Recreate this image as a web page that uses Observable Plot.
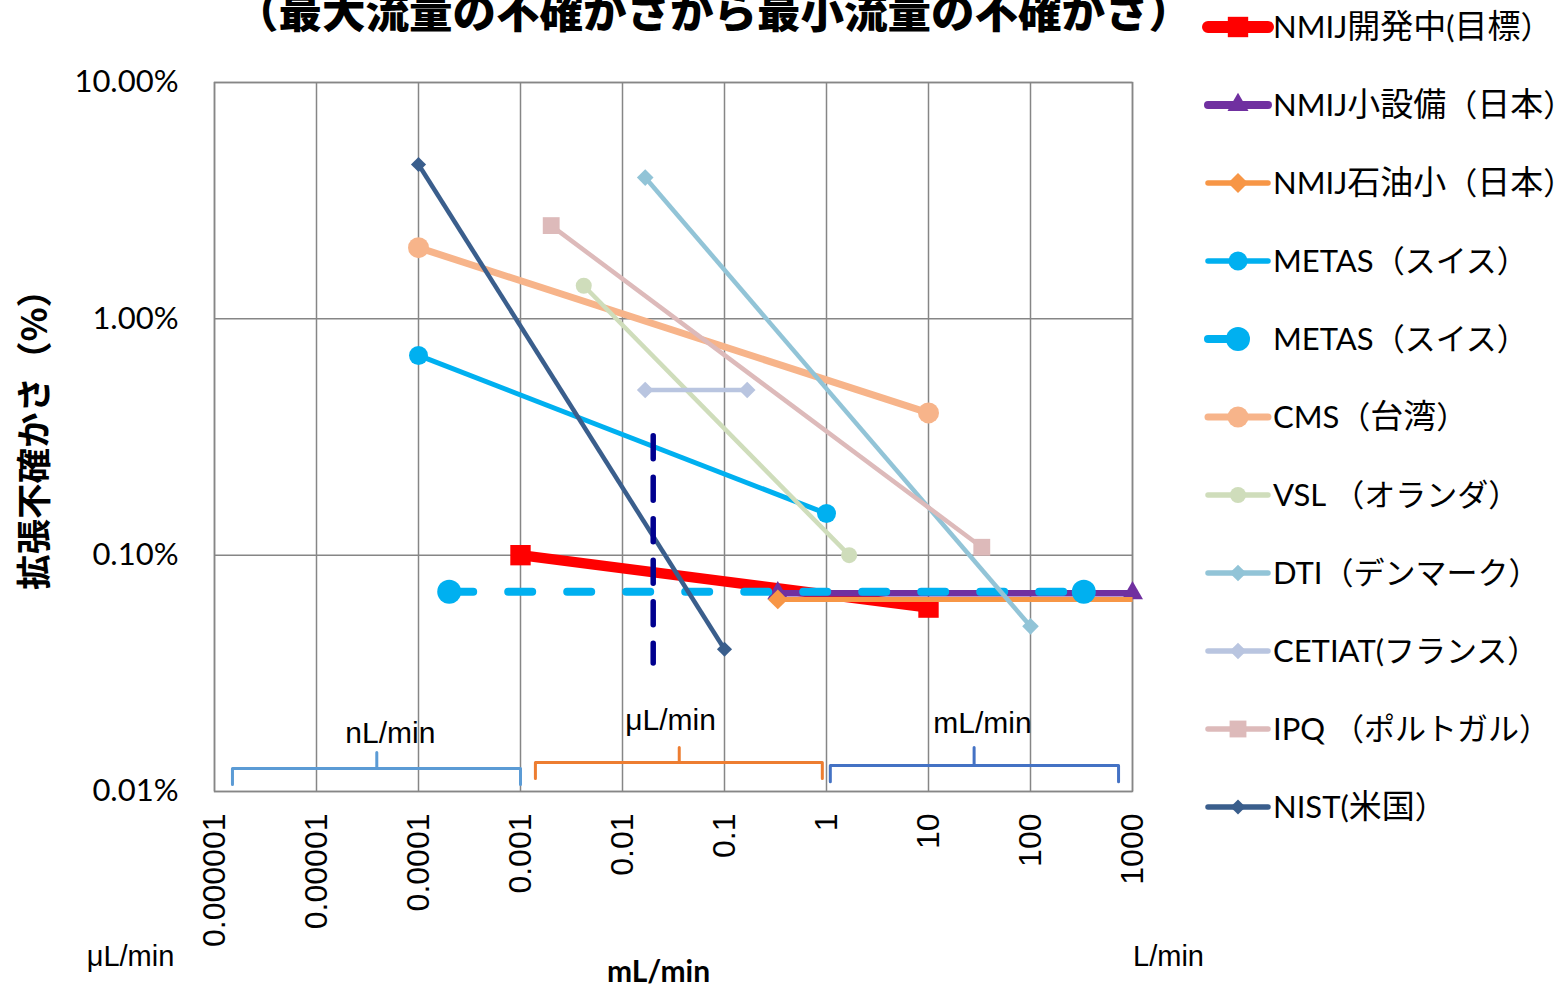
<!DOCTYPE html>
<html><head><meta charset="utf-8">
<script src="https://cdn.jsdelivr.net/npm/d3@7"></script>
<script src="https://cdn.jsdelivr.net/npm/@observablehq/plot@0.6"></script>
<style>
html,body{margin:0;padding:0;background:#fff;overflow:hidden}
#wrap{position:relative;width:1560px;height:987px;overflow:hidden;background:#fff}
#wrap svg{position:absolute;left:0;top:0}
</style></head><body><div id="wrap"></div>
<script>
// ---- data ----
const seriesNames = ["NMIJ開発中(目標）","NMIJ小設備（日本）","NMIJ石油小（日本）","METAS（スイス）","METAS（スイス）","CMS（台湾）","VSL （オランダ）","DTI（デンマーク）","CETIAT(フランス）","IPQ （ポルトガル）","NIST(米国）"];
const flowStart = [0.001, 0.333, 0.333, 0.0001, 0.0002, 0.0001, 0.00417, 0.0167, 0.0167, 0.002, 0.0001];
const flowEnd   = [10, 1000, 1000, 1, 333, 10, 1.667, 100, 0.167, 33.3, 0.1];
const uncStart  = [0.10, 0.069, 0.065, 0.70, 0.07, 2.0, 1.38, 3.96, 0.50, 2.48, 4.5];
const uncEnd    = [0.06, 0.069, 0.065, 0.15, 0.07, 0.40, 0.10, 0.05, 0.50, 0.108, 0.04];
const xTicks = [1e-6, 1e-5, 1e-4, 1e-3, 1e-2, 0.1, 1, 10, 100, 1000];
const xTickLabels = ["0.000001","0.00001","0.0001","0.001","0.01","0.1","1","10","100","1000"];
const yTicks = [0.01, 0.1, 1, 10];
const yTickLabels = ["0.01%","0.10%","1.00%","10.00%"];
const refFlow = [0.02];
const refUncTop = [0.32];
const refUncBottom = [0.035];
const rangeNames = ["nL/min","μL/min","mL/min"];
const rangeFrom = [1.5e-6, 0.0014, 1.09];
const rangeMid  = [3.9e-5, 0.036, 28];
const rangeTo   = [0.001, 0.91, 730];
const rangeBase = [0.0107, 0.01135, 0.0110];
const rangeBar  = [0.0125, 0.01327, 0.01288];
const rangeTip  = [0.01462, 0.01535, 0.01535];
const rangeLabelFlow = [5.3e-5, 0.0296, 33.8];
const rangeLabelUnc  = [0.0176, 0.020, 0.0194];

// ---- styles ----
const colors  = ["#FF0000","#7030A0","#F79646","#00B0F0","#00B0F0","#F7B48A","#CFDDBB","#92C4D7","#B9C5E0","#DDBABA","#3A5E8C"];
const widths  = [10.5, 6.5, 5, 5, 8, 7, 4.5, 4.5, 4.5, 4.5, 4.5];
const symbols = ["square","triangle","diamond2","circle","circle","circle","circle","diamond2","diamond2","square","diamond2"];
const radii   = [11.5, 7.8, 9, 9.5, 12, 10.5, 8, 7.5, 7.5, 9.5, 6.8];
const dashes  = [null,null,null,null,"24,35",null,null,null,null,null,null];
const endMarker = [true,true,false,true,true,true,true,true,true,true,true];
const rangeColors = ["#5B9BD5","#ED7D31","#4472C4"];

const latin = "Lato, 'Noto Sans CJK JP', sans-serif";
const cjk = "'Noto Sans CJK JP', sans-serif";
const narrow = "'Liberation Sans Narrow', 'Liberation Sans', sans-serif";

const marks = [
  Plot.gridX(xTicks, {stroke: "#868686", strokeOpacity: 1, strokeWidth: 1.5}),
  Plot.gridY(yTicks, {stroke: "#868686", strokeOpacity: 1, strokeWidth: 1.5}),
  Plot.frame({stroke: "#868686", strokeWidth: 1.5}),
  Plot.axisY(yTicks, {tickSize: 0, tickPadding: 36, tickFormat: d => yTickLabels[yTicks.indexOf(d)], fontSize: 31, fontFamily: latin, fill: "#000", label: null}),
  Plot.axisX(xTicks, {tickSize: 0, tickRotate: -90, tickPadding: 22, tickFormat: d => xTickLabels[xTicks.indexOf(d)], fontSize: 32, fontFamily: "'Liberation Sans', sans-serif", fill: "#000", label: null})
];

// range braces
rangeNames.forEach((n, i) => {
  const pts = [
    [rangeFrom[i], rangeBase[i]], [rangeFrom[i], rangeBar[i]], [rangeMid[i], rangeBar[i]],
    [rangeMid[i], rangeTip[i]], [rangeMid[i], rangeBar[i]], [rangeTo[i], rangeBar[i]], [rangeTo[i], rangeBase[i]]
  ];
  marks.push(Plot.line(pts, {x: d => d[0], y: d => d[1], stroke: rangeColors[i], strokeWidth: 3, strokeLinejoin: "round", strokeLinecap: "round"}));
});
marks.push(Plot.text(rangeNames, {x: rangeLabelFlow, y: rangeLabelUnc, text: d => d, fontSize: 30, fontFamily: narrow, fill: "#000"}));

// series
seriesNames.forEach((name, i) => {
  const pts = [{x: flowStart[i], y: uncStart[i]}, {x: flowEnd[i], y: uncEnd[i]}];
  marks.push(Plot.line(pts, {x: "x", y: "y", stroke: colors[i], strokeWidth: widths[i], strokeDasharray: dashes[i] ?? undefined, strokeLinecap: dashes[i] ? "round" : "butt"}));
  const mpts = endMarker[i] ? pts : pts.slice(0, 1);
  marks.push(Plot.dot(mpts, {x: "x", y: "y", r: radii[i], symbol: symbols[i], fill: colors[i]}));
});

// reference vertical dashed line
marks.push(Plot.line([{x: refFlow[0], y: refUncTop[0]}, {x: refFlow[0], y: refUncBottom[0]}], {x: "x", y: "y", stroke: "#00008F", strokeWidth: 5.5, strokeDasharray: "23,18.5"}));

// titles
marks.push(Plot.text(["（最大流量の不確かさから最小流量の不確かさ）"], {text: d => d, frameAnchor: "top", textAnchor: "middle", dx: 40, dy: -55, lineAnchor: "bottom", fontSize: 43.5, fontWeight: 900, fontFamily: cjk, fill: "#000"}));
marks.push(Plot.text(["拡張不確かさ（%）"], {text: d => d, frameAnchor: "left", textAnchor: "middle", lineAnchor: "middle", dx: -179, dy: -6, rotate: -90, fontSize: 35.5, fontWeight: 700, fontFamily: cjk, fill: "#000"}));
marks.push(Plot.text(["mL/min"], {text: d => d, frameAnchor: "bottom", textAnchor: "middle", lineAnchor: "middle", dx: -15, dy: 181, fontSize: 30, fontWeight: 700, fontFamily: latin, fill: "#000"}));
marks.push(Plot.text(["μL/min"], {text: d => d, frameAnchor: "bottom-left", textAnchor: "middle", lineAnchor: "middle", dx: -84, dy: 165, fontSize: 29, fontFamily: narrow, fill: "#000"}));
marks.push(Plot.text(["L/min"], {text: d => d, frameAnchor: "bottom-right", textAnchor: "middle", lineAnchor: "middle", dx: 36, dy: 165, fontSize: 29, fontFamily: narrow, fill: "#000"}));

const chart = Plot.plot({
  width: 1560, height: 987,
  marginLeft: 214, marginRight: 428, marginTop: 82, marginBottom: 196,
  x: {type: "log", domain: [1e-6, 1000]},
  y: {type: "log", domain: [0.01, 10]},
  style: {fontFamily: latin, background: "white", overflow: "visible"},
  marks
});
document.getElementById("wrap").appendChild(chart);

// legend
const symMap = {square: d3.symbolSquare, triangle: d3.symbolTriangle, diamond2: d3.symbolDiamond2, circle: d3.symbolCircle};
const leg = d3.select("#wrap").append("svg").attr("width", 1560).attr("height", 987);
seriesNames.forEach((name, i) => {
  const cy = 27 + 78 * i;
  const g = leg.append("g").attr("transform", `translate(0,${cy})`);
  const lw = i === 0 ? 12 : (i === 1 ? 8 : (i === 4 ? 8 : Math.max(widths[i], 5.5)));
  g.append("line").attr("x1", 1208).attr("x2", dashes[i] ? 1262 : 1268).attr("y1", 0).attr("y2", 0)
    .attr("stroke", colors[i]).attr("stroke-width", lw).attr("stroke-linecap", "round")
    .attr("stroke-dasharray", dashes[i]);
  g.append("path").attr("transform", "translate(1238,0)")
    .attr("d", d3.symbol(symMap[symbols[i]], Math.PI * radii[i] * radii[i])())
    .attr("fill", colors[i]);
  const t = g.append("text").attr("x", 1273).attr("y", 0).attr("dy", "0.36em")
    .attr("font-family", latin).attr("font-size", 31).attr("fill", "#000");
  const runs = name.match(/[\u4e00-\u9fff]+|[^\u4e00-\u9fff]+/g);
  runs.forEach(r => {
    const isKanji = /[\u4e00-\u9fff]/.test(r);
    t.append("tspan").attr("font-size", isKanji ? 33 : 31).text(r);
  });
});
</script></body></html>
